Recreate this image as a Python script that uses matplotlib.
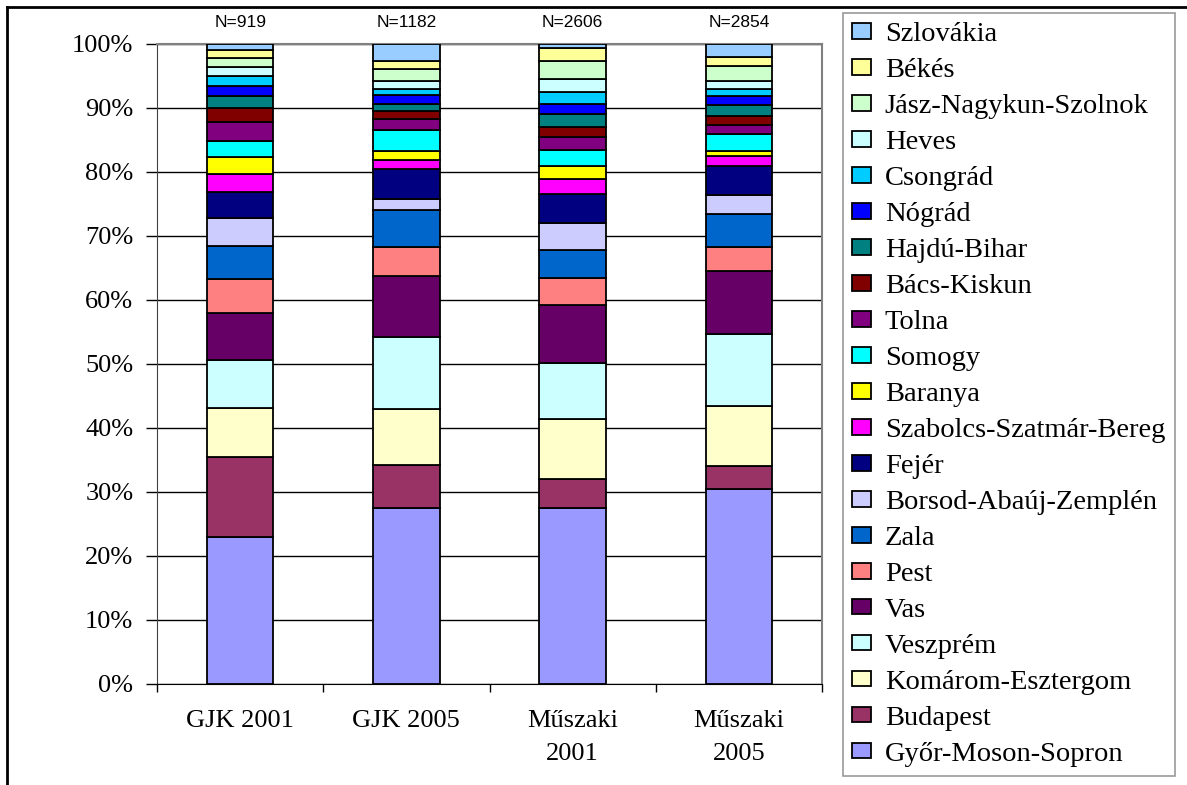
import numpy as np
import matplotlib
matplotlib.use('Agg')
import matplotlib.pyplot as plt
from matplotlib.lines import Line2D
from matplotlib.ticker import MultipleLocator, FuncFormatter

# ----------------------------------------------------------------------
# data (percent of respondents, bottom to top)

groups = ['GJK 2001', 'GJK 2005', 'Műszaki\n2001', 'Műszaki\n2005']
n_labels = ['N=919', 'N=1182', 'N=2606', 'N=2854']

regions = ['Győr-Moson-Sopron', 'Budapest', 'Komárom-Esztergom', 'Veszprém',
           'Vas', 'Pest', 'Zala', 'Borsod-Abaúj-Zemplén', 'Fejér',
           'Szabolcs-Szatmár-Bereg', 'Baranya', 'Somogy', 'Tolna',
           'Bács-Kiskun', 'Hajdú-Bihar', 'Nógrád', 'Csongrád', 'Heves',
           'Jász-Nagykun-Szolnok', 'Békés', 'Szlovákia']

gjk_2001 = [23.0, 12.4, 7.8, 7.4, 7.4, 5.3, 5.2, 4.3, 4.0, 2.9, 2.6,
            2.6, 2.9, 2.2, 1.9, 1.5, 1.6, 1.4, 1.4, 1.2, 1.0]
gjk_2005 = [27.5, 6.7, 8.8, 11.2, 9.6, 4.5, 5.7, 1.8, 4.6, 1.4, 1.5,
            3.3, 1.7, 1.2, 1.1, 1.5, 0.9, 1.2, 1.9, 1.2, 2.7]
musz_2001 = [27.5, 4.5, 9.4, 8.8, 9.0, 4.3, 4.3, 4.3, 4.5, 2.3, 2.0,
             2.6, 2.0, 1.6, 1.9, 1.6, 1.9, 2.1, 2.7, 2.1, 0.6]
musz_2005 = [30.4, 3.7, 9.4, 11.2, 9.8, 3.8, 5.2, 2.9, 4.5, 1.6, 0.8,
             2.6, 1.5, 1.3, 1.7, 1.4, 1.2, 1.2, 2.4, 1.4, 2.0]

colors = ['#9999FF', '#993366', '#FFFFCC', '#CCFFFF', '#660066', '#FF8080',
          '#0066CC', '#CCCCFF', '#000080', '#FF00FF', '#FFFF00', '#00FFFF',
          '#800080', '#800000', '#008080', '#0000FF', '#00CCFF', '#CCFFFF',
          '#CCFFCC', '#FFFF99', '#99CCFF']

# ----------------------------------------------------------------------

serif = ['Liberation Serif', 'DejaVu Serif']
W, H = 1187, 785

vals = np.array([gjk_2001, gjk_2005, musz_2001, musz_2005])
vals = vals / vals.sum(axis=1, keepdims=True) * 100

fig = plt.figure(figsize=(W / 100, H / 100), dpi=100)
ax = fig.add_axes([157 / W, 1 - 684 / H, (822 - 157) / W, (684 - 44) / H])

x = np.arange(len(groups))
bottom = np.zeros(len(groups))
handles = []
for i, name in enumerate(regions):
    b = ax.bar(x, vals[:, i], 0.4, bottom=bottom, color=colors[i],
               edgecolor='black', linewidth=1.3, label=name, zorder=3)
    handles.append(b)
    bottom += vals[:, i]

ax.set_xlim(-0.5, len(groups) - 0.5)
ax.set_ylim(0, 100)
ax.yaxis.set_major_locator(MultipleLocator(10))
ax.yaxis.set_major_formatter(FuncFormatter(lambda v, _: f'{v:.0f}%'))
ax.grid(axis='y', color='black', linewidth=1.0, zorder=0)

ax.set_xticks(np.arange(len(groups) + 1) - 0.5)
ax.set_xticklabels([])
ax.set_xticks(x, minor=True)
ax.set_xticklabels(groups, minor=True, fontsize=19, family=serif,
                   linespacing=1.6)
ax.tick_params(axis='x', which='minor', length=0, pad=19)
ax.tick_params(axis='x', which='major', length=6, width=1, direction='out')
ax.tick_params(axis='y', length=8, width=1, labelsize=19, pad=9)
for lab in ax.get_yticklabels():
    lab.set_family(serif)

for s in ['top', 'right']:
    ax.spines[s].set_color('#808080')
    ax.spines[s].set_linewidth(1.5)
ax.spines['left'].set_color('#404040')
ax.spines['bottom'].set_color('black')

for xi, t in zip(x, n_labels):
    ax.text(xi, 103.3, t, ha='center', va='center', fontsize=12.5,
            family=['Liberation Sans', 'DejaVu Sans'])

leg = fig.legend(handles[::-1], regions[::-1], loc='upper left',
                 bbox_to_anchor=(843 / W, 1 - 13 / H),
                 prop={'family': serif, 'size': 20.5},
                 frameon=True, fancybox=False, edgecolor='#808080',
                 handlelength=0.64, handleheight=0.47, handletextpad=0.5,
                 labelspacing=0.385, borderpad=0.33, borderaxespad=0)
leg.get_frame().set_linewidth(1.2)

# outer chart frame
fig.add_artist(Line2D([7 / W, 1], [1 - 7 / H, 1 - 7 / H], color='black',
                      linewidth=2, transform=fig.transFigure))
fig.add_artist(Line2D([7 / W, 7 / W], [0, 1 - 7 / H], color='black',
                      linewidth=2, transform=fig.transFigure))

plt.savefig('out.png', dpi=100)
